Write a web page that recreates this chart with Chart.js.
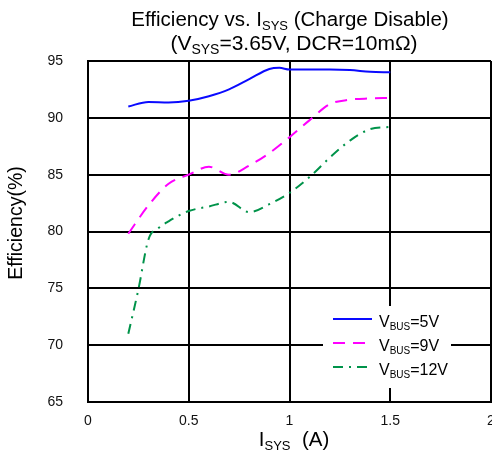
<!DOCTYPE html>
<html>
<head>
<meta charset="utf-8">
<script src="https://cdn.jsdelivr.net/npm/chart.js@4.4.1/dist/chart.umd.min.js"></script>
<style>
  html, body { margin: 0; padding: 0; background: #fff; }
  canvas { display: block; }
</style>
</head>
<body>
<canvas id="chart" width="492" height="455"></canvas>
<script>
// 읽어낸 데이터 (I_SYS in A, efficiency in %)
const iSys5V = [0.2, 0.3, 0.4, 0.5, 0.6, 0.7, 0.8, 0.9, 0.95, 1.0, 1.1, 1.2, 1.3, 1.4, 1.5];
const eff5V = [91.0, 91.4, 91.35, 91.5, 91.9, 92.5, 93.4, 94.3, 94.4, 94.25, 94.25, 94.25, 94.2, 94.05, 94.0];

const iSys9V = [0.2, 0.3, 0.4, 0.5, 0.6, 0.7, 0.8, 0.9, 1.0, 1.1, 1.2, 1.3, 1.4, 1.5];
const eff9V = [79.8, 82.3, 84.2, 85.0, 85.7, 85.0, 85.8, 86.9, 88.3, 89.8, 91.2, 91.6, 91.7, 91.75];

const iSys12V = [0.2, 0.25, 0.3, 0.35, 0.4, 0.5, 0.6, 0.7, 0.8, 0.9, 1.0, 1.1, 1.2, 1.3, 1.4, 1.5];
const eff12V = [71.0, 74.9, 79.3, 80.3, 80.9, 81.8, 82.2, 82.6, 81.7, 82.4, 83.4, 84.8, 86.5, 88.0, 89.0, 89.2];

const xTicks = [0, 0.5, 1, 1.5, 2];
const yTicks = [65, 70, 75, 80, 85, 90, 95];

const FONT = '"Liberation Sans", Arial, sans-serif';

const series = [
  { name: '5V', xs: iSys5V, ys: eff5V, color: '#0a0aff', dash: [] },
  { name: '9V', xs: iSys9V, ys: eff9V, color: '#ff00ff', dash: [12, 8] },
  { name: '12V', xs: iSys12V, ys: eff12V, color: '#00934a', dash: [10, 6, 2, 6] }
];

// 아래첨자가 섞인 텍스트 그리기
function richWidth(ctx, parts, size) {
  let w = 0;
  parts.forEach(([t, sub]) => {
    ctx.font = (sub ? Math.round(size * 0.65) : size) + 'px ' + FONT;
    w += ctx.measureText(t).width;
  });
  return w;
}
function richText(ctx, parts, x, y, size, align) {
  let cx = x;
  if (align === 'center') cx = x - richWidth(ctx, parts, size) / 2;
  ctx.textBaseline = 'alphabetic';
  ctx.textAlign = 'left';
  parts.forEach(([t, sub]) => {
    ctx.font = (sub ? Math.round(size * 0.65) : size) + 'px ' + FONT;
    ctx.fillText(t, cx, sub ? y + size * 0.18 : y);
    cx += ctx.measureText(t).width;
  });
}

const decorations = {
  id: 'decorations',
  afterDraw(chart) {
    const ctx = chart.ctx;
    ctx.save();
    ctx.fillStyle = '#000';

    // 제목
    richText(ctx, [['Efficiency vs. I', false], ['SYS', true], [' (Charge Disable)', false]], 290, 26, 20.5, 'center');
    richText(ctx, [['(V', false], ['SYS', true], ['=3.65V, DCR=10m\u03A9)', false]], 294, 50, 21, 'center');

    // x축 제목
    richText(ctx, [['I', false], ['SYS', true], ['  (A)', false]], 294, 446, 20.5, 'center');

    // y축 제목
    ctx.save();
    ctx.translate(22, 223);
    ctx.rotate(-Math.PI / 2);
    richText(ctx, [['Efficiency(%)', false]], 0, 0, 19.5, 'center');
    ctx.restore();

    // 범례 (흰 배경이 격자를 가림)
    ctx.fillStyle = '#fff';
    ctx.fillRect(323, 306, 128, 82);
    series.forEach((s, i) => {
      const y = 319 + i * 24;
      ctx.strokeStyle = s.color;
      ctx.lineWidth = 2;
      ctx.setLineDash(s.dash);
      ctx.beginPath();
      ctx.moveTo(333, y);
      ctx.lineTo(372, y);
      ctx.stroke();
      ctx.setLineDash([]);
      ctx.fillStyle = '#000';
      richText(ctx, [['V', false], ['BUS', true], ['=' + s.name, false]], 379, y + 8, 16, 'left');
    });
    ctx.restore();
  }
};

const ctx = document.getElementById('chart').getContext('2d');
new Chart(ctx, {
  type: 'line',
  data: {
    datasets: series.map(s => ({
      label: 'VBUS=' + s.name,
      data: s.xs.map((x, i) => ({ x: x, y: s.ys[i] })),
      borderColor: s.color,
      borderWidth: 2,
      borderDash: s.dash,
      pointRadius: 0,
      fill: false,
      tension: 0.4,
      cubicInterpolationMode: 'monotone'
    }))
  },
  options: {
    responsive: false,
    devicePixelRatio: 1,
    animation: false,
    layout: { padding: { top: 61, right: 1, left: 0, bottom: 0 } },
    plugins: {
      legend: { display: false },
      title: { display: false },
      tooltip: { enabled: false }
    },
    scales: {
      x: {
        type: 'linear',
        min: 0,
        max: 2,
        afterBuildTicks: axis => { axis.ticks = xTicks.map(v => ({ value: v })); },
        afterFit: axis => { axis.height = 53; axis.paddingLeft = 0; axis.paddingRight = 0; },
        grid: { color: '#000', lineWidth: 2, drawTicks: false },
        border: { color: '#000', width: 2 },
        ticks: {
          color: '#111',
          padding: 11,
          maxRotation: 0,
          font: { family: FONT, size: 14 },
          callback: v => String(v)
        }
      },
      y: {
        min: 65,
        max: 95,
        afterBuildTicks: axis => { axis.ticks = yTicks.map(v => ({ value: v })); },
        afterFit: axis => { axis.width = 88; axis.paddingTop = 0; axis.paddingBottom = 0; },
        grid: { color: '#000', lineWidth: 2, drawTicks: false },
        border: { color: '#000', width: 2 },
        ticks: {
          color: '#111',
          padding: 25,
          font: { family: FONT, size: 14 }
        }
      }
    }
  },
  plugins: [decorations]
});
</script>
</body>
</html>
